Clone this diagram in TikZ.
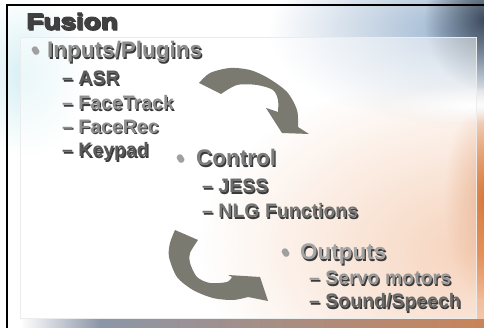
\documentclass[tikz,border=0pt]{standalone}
\usepackage{fontspec}
\setmainfont{Liberation Sans}
\newfontfamily\titlefont[FakeBold=4,FakeStretch=1.25]{Liberation Sans Bold}
\usetikzlibrary{fadings}
\definecolor{titlegray}{HTML}{404040}
\definecolor{embossdark}{HTML}{3A3A3A}
\definecolor{bulletgray}{HTML}{A0A0A0}
\definecolor{arrowgray}{HTML}{7A7A70}
\definecolor{peach}{HTML}{EDA576}
\definecolor{skyblue}{HTML}{A0B8D2}
\definecolor{slate}{HTML}{3C4A5C}
\definecolor{amber}{HTML}{D8783A}
\definecolor{cyantint}{HTML}{D6F0F4}
\definecolor{bandblue}{HTML}{8C96A8}
\definecolor{bandorange}{HTML}{C8845A}
\tikzfading[name=softglow,inner color=transparent!0,outer color=transparent!100]

% text with a dark drop shadow
\newcommand{\embossed}[5]{%
  \node[#3,text=embossdark,xshift=1.2pt,yshift=-1.2pt] (#1-shadow) at #2 {#5};
  \node[#3,text=#4] (#1) at #2 {#5};}

\begin{document}
\begin{tikzpicture}[x=1pt,y=-1pt,
  title/.style={font=\titlefont\fontsize{22.3}{26}\selectfont,anchor=base west,inner sep=0pt},
  item/.style={font=\bfseries\fontsize{22.5}{27}\selectfont,anchor=base west,inner sep=0pt},
  subitem/.style={font=\bfseries\fontsize{19.5}{23}\selectfont,anchor=base west,inner sep=0pt},
  bigarrow/.style={fill=arrowgray}]

  \useasboundingbox (0,0) rectangle (484,328);
  \fill[white] (0,0) rectangle (484,328);

  \fill[peach,path fading=softglow] (480,250) ellipse (280 and 180);
  \fill[skyblue,path fading=softglow] (450,30) ellipse (180 and 95);
  \fill[slate,path fading=softglow] (484,20) ellipse (60 and 70);
  \fill[amber,path fading=softglow] (484,200) ellipse (40 and 100);
  \fill[white,path fading=softglow] (470,105) ellipse (90 and 18);
  \fill[cyantint,path fading=softglow] (25,75) ellipse (60 and 80);
  \shade[left color=white,right color=bandblue] (20,319) rectangle (100,328);
  \shade[left color=bandblue,right color=bandorange] (100,319) rectangle (484,328);

  \fill[white,fill opacity=0.5] (20,37) rectangle (476,318);
  \draw[white!85!gray,line width=0.6pt] (20,37) rectangle (476,318);

  \draw[black,line width=2.2pt] (7,328) -- (7,5) -- (484,5);

  \fill[bigarrow] plot[smooth] coordinates {(199,83) (210,73) (230,68) (250,70) (268,78) (287,92) (297,110) (298,127)}
    -- (309,134) -- (282,133) -- (266,108)
    -- plot[smooth] coordinates {(278,112) (278,100) (273,90) (257,85) (237,85) (221,94)} -- cycle;
  \fill[bigarrow] plot[smooth] coordinates {(175,230) (170,243) (169,257) (177,277) (193,290) (213,298) (233,300) (248,297)}
    -- (268,301) -- (260,277) -- (228,275)
    -- plot[smooth] coordinates {(232,277) (227,282) (210,283) (197,277) (190,263) (190,253) (198,240)} -- cycle;

  \embossed{fusion}{(26,29)}{title}{titlegray}{Fusion}
  \embossed{inputs}{(31,58)}{item}{black!45}{\textcolor{bulletgray}{\makebox[16pt][l]{•}}Inputs/Plugins}
  \embossed{asr}{(62,85)}{subitem}{black!64}{– ASR}
  \embossed{facetrack}{(62,110)}{subitem}{black!44}{– FaceTrack}
  \embossed{facerec}{(62,133.5)}{subitem}{black!44}{– FaceRec}
  \embossed{keypad}{(62,157)}{subitem}{black!65}{– Keypad}
  \embossed{control}{(176,166)}{item}{black!51}{\textcolor{bulletgray}{\makebox[20pt][l]{•}}Control}
  \embossed{jess}{(202,193)}{subitem}{black!58}{– JESS}
  \embossed{nlg}{(202,218)}{subitem}{black!54}{– NLG Functions}
  \embossed{outputs}{(281,260)}{item}{black!36}{\textcolor{bulletgray}{\makebox[19pt][l]{•}}Outputs}
  \embossed{servo}{(309,285)}{subitem}{black!41}{– Servo motors}
  \embossed{sound}{(309,308)}{subitem}{black!59}{– Sound/Speech}
\end{tikzpicture}
\end{document}
